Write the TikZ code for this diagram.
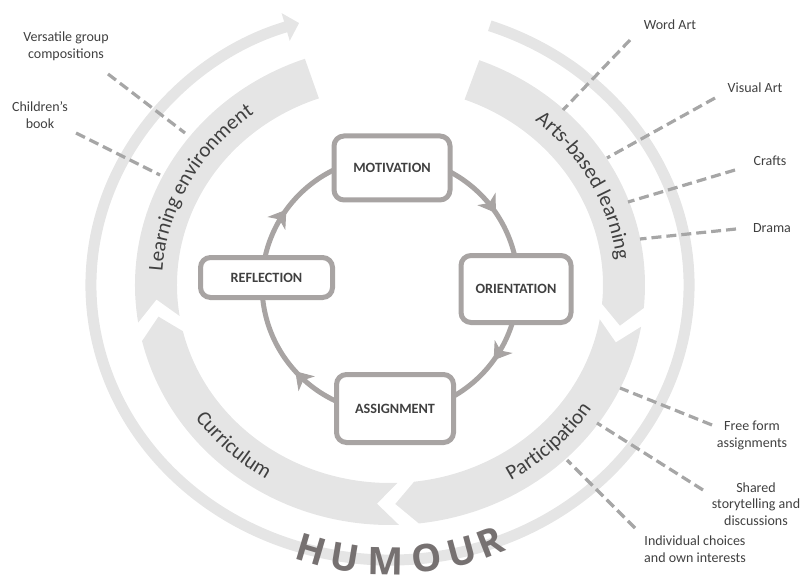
\documentclass[tikz,border=0pt]{standalone}
\usepackage{fontspec}
\setmainfont{Carlito}
\newfontfamily\humfont{Open Sans}
\usetikzlibrary{arrows.meta,decorations.text,decorations.markings}
\definecolor{ringgray}{RGB}{229,229,229}
\definecolor{boxgray}{RGB}{168,164,163}
\definecolor{dashgray}{RGB}{166,166,166}
\definecolor{txtgray}{RGB}{64,64,64}
\definecolor{humgray}{RGB}{118,113,113}
\newcommand{\lblfont}{\fontsize{14}{16.5}\selectfont}
\newcommand{\bandfont}{\fontsize{21}{24}\selectfont}
\newcommand{\boxfont}{\fontsize{14.2}{16}\selectfont\bfseries}
\tikzset{
  band/.style={fill=ringgray, draw=none},
  box/.style={draw=boxgray, line width=5pt, fill=white, rounded corners=10pt,
    font=\boxfont, text=txtgray, inner sep=0pt},
  lbl/.style={font=\lblfont, text=txtgray, align=center, inner sep=0pt},
  dashline/.style={draw=dashgray, line width=3.2pt, dash pattern=on 10pt off 5pt},
  cyc/.style={draw=boxgray, line width=5pt},
  cycarrow/.style={postaction={decorate}, decoration={markings,
    mark=at position #1 with {\arrow[line width=1pt]{Stealth[length=17pt,width=22pt,inset=5pt]}}}},
  hum/.style={font=\humfont\bfseries\fontsize{38}{40}\selectfont, text=humgray, inner sep=0pt},
  bandtext/.style={decorate, decoration={text along path, text align=center,
    text color=txtgray, text={|\bandfont|#1}}}
}
\begin{document}
\begin{tikzpicture}[x=1pt,y=1pt]
\useasboundingbox (0,0) rectangle (801,-583);
\begin{scope}[shift={(390,-285)}]
  % outer ring with arrow
  \draw[ringgray, line width=11pt, -{Triangle[width=28pt,length=14pt]}]
    (70.5:299 and 275) arc[start angle=70.5, end angle=-252.3, x radius=299, y radius=275];
  % bands
  \fill[band] (69.5:255 and 240) arc[start angle=69.5, end angle=-5.5, x radius=255, y radius=240]
    -- (-10.7:234 and 219) -- (-5.5:213 and 198)
    arc[start angle=-5.5, end angle=69.5, x radius=213, y radius=198] -- cycle;
  \fill[band] (-10:255 and 240) arc[start angle=-10, end angle=-83.5, x radius=255, y radius=240]
    -- (-88.7:234 and 219) -- (-83.5:213 and 198)
    arc[start angle=-83.5, end angle=-10, x radius=213, y radius=198] -- (-15.2:234 and 219) -- cycle;
  \fill[band] (-88:255 and 240) arc[start angle=-88, end angle=-166.5, x radius=255, y radius=240]
    -- (-171.7:234 and 219) -- (-166.5:213 and 198)
    arc[start angle=-166.5, end angle=-88, x radius=213, y radius=198] -- (-93.2:234 and 219) -- cycle;
  \fill[band] (-171:255 and 240) arc[start angle=-171, end angle=-250.5, x radius=255, y radius=240]
    -- (-250.5:213 and 198)
    arc[start angle=-250.5, end angle=-171, x radius=213, y radius=198] -- (-176.2:234 and 219) -- cycle;
  % band texts
  \path[bandtext={Learning environment}] (190:228 and 213) arc[start angle=190, end angle=113.6, x radius=228, y radius=213];
  \path[bandtext={Arts-based learning}] (66.4:228 and 213) arc[start angle=66.4, end angle=-10, x radius=228, y radius=213];
  \path[bandtext={Curriculum}] (190:241 and 226) arc[start angle=190, end angle=264, x radius=241, y radius=226];
  \path[bandtext={Participation}] (-83:241 and 226) arc[start angle=-83, end angle=-9, x radius=241, y radius=226];
  % inner cycle
  \coordinate (cT) at (90:128);
  \coordinate (cR) at (0:128);
  \coordinate (cB) at (-90:128);
  \coordinate (cL) at (180:128);
  \draw[cyc, cycarrow=0.62] (cT) to[out=0,in=90] (cR);
  \draw[cyc, cycarrow=0.40] (cR) to[out=-90,in=0] (cB);
  \draw[cyc, cycarrow=0.53] (cB) to[out=180,in=-90] (cL);
  \draw[cyc, cycarrow=0.40] (cL) to[out=90,in=180] (cT);
\end{scope}
% dashed connectors
\coordinate (vA) at (108,-74);  \coordinate (vB) at (185,-133);
\coordinate (chA) at (76,-133); \coordinate (chB) at (160,-175);
\coordinate (wA) at (630,-40);  \coordinate (wB) at (563,-110);
\coordinate (viA) at (715,-98); \coordinate (viB) at (607,-158);
\coordinate (crA) at (735,-170); \coordinate (crB) at (628,-202);
\coordinate (drA) at (736,-229); \coordinate (drB) at (640,-239);
\coordinate (frA) at (712,-425); \coordinate (frB) at (620,-388);
\coordinate (shA) at (703,-490); \coordinate (shB) at (597,-423);
\coordinate (inA) at (635,-528); \coordinate (inB) at (567,-460);
\draw[dashline] (vA) -- (vB);
\draw[dashline] (chA) -- (chB);
\draw[dashline] (wA) -- (wB);
\draw[dashline] (viA) -- (viB);
\draw[dashline] (crA) -- (crB);
\draw[dashline] (drA) -- (drB);
\draw[dashline] (frA) -- (frB);
\draw[dashline] (shA) -- (shB);
\draw[dashline] (inA) -- (inB);
% labels
\node[lbl] (lVers) at (66,-46.5) {Versatile group\\compositions};
\node[lbl] (lChild) at (40,-115) {Children’s\\book};
\node[lbl] (lWord) at (670,-25) {Word Art};
\node[lbl] (lVis) at (755,-88) {Visual Art};
\node[lbl] (lCraft) at (770,-161) {Crafts};
\node[lbl] (lDrama) at (772,-228) {Drama};
\node[lbl] (lFree) at (752,-435.5) {Free form\\assignments};
\node[lbl] (lShared) at (756,-504) {Shared\\storytelling and\\discussions};
\node[lbl] (lIndiv) at (695,-549) {Individual choices\\and own interests};
% boxes
\node[box, minimum width=116pt, minimum height=64pt] (mot) at (392,-168) {MOTIVATION};
\node[box, minimum width=110pt, minimum height=67pt] (ori) at (516,-289) {ORIENTATION};
\node[box, minimum width=117pt, minimum height=68pt] (asg) at (395,-408.5) {ASSIGNMENT};
\node[box, minimum width=132pt, minimum height=40pt] (ref) at (266.5,-277.5) {REFLECTION};
% HUMOUR
\begin{scope}[shift={(390,-285)}]
  \foreach \ang/\ch [count=\i] in {253.5/H, 260.6/U, 269/M, 277.7/O, 285/U, 291.4/R}
    \node[hum, rotate=\ang-270] (hum\i) at (\ang:276) {\ch};
\end{scope}
\end{tikzpicture}
\end{document}
